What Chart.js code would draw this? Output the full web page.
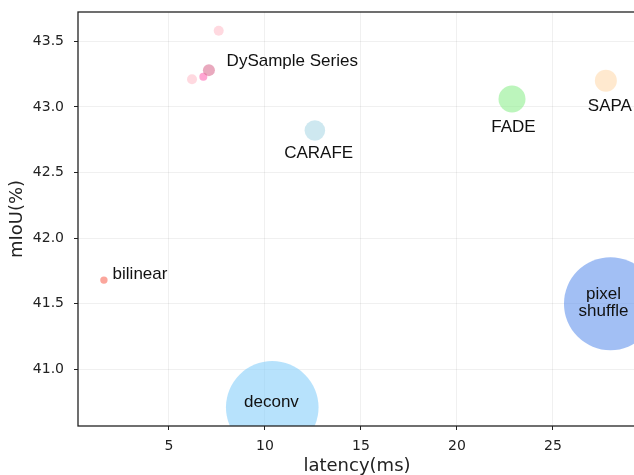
<!DOCTYPE html>
<html><head><meta charset="utf-8">
<script src="https://cdn.jsdelivr.net/npm/chart.js@4"></script>
<style>html,body{margin:0;padding:0;overflow:hidden;background:#fff}#wrap{position:relative;width:640px;height:485px}</style>
</head><body><div id="wrap"><canvas id="c"></canvas></div>
<script>
// ---- data ----
const methods = ['bilinear','deconv','pixel shuffle','CARAFE','FADE','SAPA','DySample-S','DySample','DySample+','DySample-S+'];
const latency = [1.61, 10.38, 28.0, 12.6, 22.87, 27.76, 6.20, 6.79, 7.08, 7.59];
const miou    = [41.68, 40.71, 41.50, 42.82, 43.06, 43.20, 43.21, 43.23, 43.28, 43.58];
const bubbleSize = [3.7, 46.3, 46.5, 10.3, 13.5, 11, 5, 4, 6, 5];
const colors = ['rgba(250,128,114,0.7)','rgba(135,206,250,0.6)','rgba(100,149,237,0.6)','rgba(173,216,230,0.6)',
  'rgba(144,238,144,0.6)','rgba(255,218,175,0.6)','rgba(255,192,203,0.6)','rgba(255,105,180,0.6)',
  'rgba(219,112,147,0.6)','rgba(255,192,203,0.6)'];
const xTicks = [5, 10, 15, 20, 25];
const yTicks = [41.0, 41.5, 42.0, 42.5, 43.0, 43.5];
const xRange = [0.26, 29.33];
const yRange = [40.568, 43.723];
const labelTexts = [['bilinear'], ['deconv'], ['pixel','shuffle'], ['CARAFE'], ['FADE'], ['SAPA'], ['DySample Series']];
const labelPoints = [0, 1, 2, 3, 4, 5, 8];

// ---- label placement (pixel offsets from point) ----
const labelStyle = [
  {align:'left', dx:8.7, dy:-5.7},
  {align:'center', dx:-0.8, dy:-5.1},
  {align:'center', dx:-7, dy:-9.7, lh:17.3},
  {align:'center', dx:3.8, dy:23.3},
  {align:'center', dx:1.4, dy:28.3},
  {align:'center', dx:4, dy:26},
  {align:'left', dx:17.7, dy:-8.5}
];

const labelPlugin = {
  id: 'labels',
  afterDatasetsDraw(chart) {
    const {ctx, chartArea: a} = chart;
    const meta = chart.getDatasetMeta(0);
    ctx.save();
    ctx.font = '17px "Liberation Sans", Arial, sans-serif';
    ctx.fillStyle = '#111';
    ctx.textBaseline = 'middle';
    labelTexts.forEach((lines, i) => {
      const el = meta.data[labelPoints[i]];
      const s = labelStyle[i];
      ctx.textAlign = s.align;
      lines.forEach((t, k) => ctx.fillText(t, el.x + s.dx, el.y + s.dy + k * (s.lh || 0)));
    });
    ctx.strokeStyle = '#222';
    ctx.lineWidth = 1.3;
    ctx.strokeRect(a.left, a.top, a.right - a.left, a.bottom - a.top);
    ctx.restore();
  }
};

const tickFont = {family: '"DejaVu Sans", sans-serif', size: 14};
const titleFont = {family: '"DejaVu Sans", sans-serif', size: 18};
const noPad = s => { s.paddingTop = 0; s.paddingBottom = 0; s.paddingLeft = 0; s.paddingRight = 0; };

new Chart(document.getElementById('c'), {
  type: 'bubble',
  data: {
    datasets: [{
      data: latency.map((x, i) => ({x, y: miou[i], r: bubbleSize[i]})),
      backgroundColor: colors,
      borderWidth: 0,
      hoverRadius: 0,
      clip: 0
    }]
  },
  options: {
    responsive: true,
    maintainAspectRatio: false,
    animation: false,
    events: [],
    layout: {autoPadding: false, padding: {left: 0, top: 12, right: 4, bottom: 0}},
    plugins: {legend: {display: false}, tooltip: {enabled: false}},
    scales: {
      x: {
        type: 'linear', min: xRange[0], max: xRange[1],
        afterBuildTicks: s => { s.ticks = xTicks.map(v => ({value: v})); },
        afterFit: s => { s.height = 59; noPad(s); },
        grid: {color: 'rgba(0,0,0,0.06)', lineWidth: 1, tickLength: 4, tickColor: '#222', tickWidth: 1},
        border: {display: false},
        ticks: {font: tickFont, color: '#222', padding: 8, maxRotation: 0, callback: v => String(v)},
        title: {display: true, text: 'latency(ms)', font: titleFont, color: '#222', padding: {top: 0, bottom: 8}}
      },
      y: {
        type: 'linear', min: yRange[0], max: yRange[1],
        afterBuildTicks: s => { s.ticks = yTicks.map(v => ({value: v})); },
        afterFit: s => { s.width = 78; noPad(s); },
        grid: {color: 'rgba(0,0,0,0.06)', lineWidth: 1, tickLength: 4, tickColor: '#222', tickWidth: 1},
        border: {display: false},
        ticks: {font: tickFont, color: '#222', padding: 10, callback: v => Number(v).toFixed(1)},
        title: {display: true, text: 'mIoU(%)', font: titleFont, color: '#222', padding: {top: 7, bottom: 0}}
      }
    }
  },
  plugins: [labelPlugin]
});
</script></body></html>
